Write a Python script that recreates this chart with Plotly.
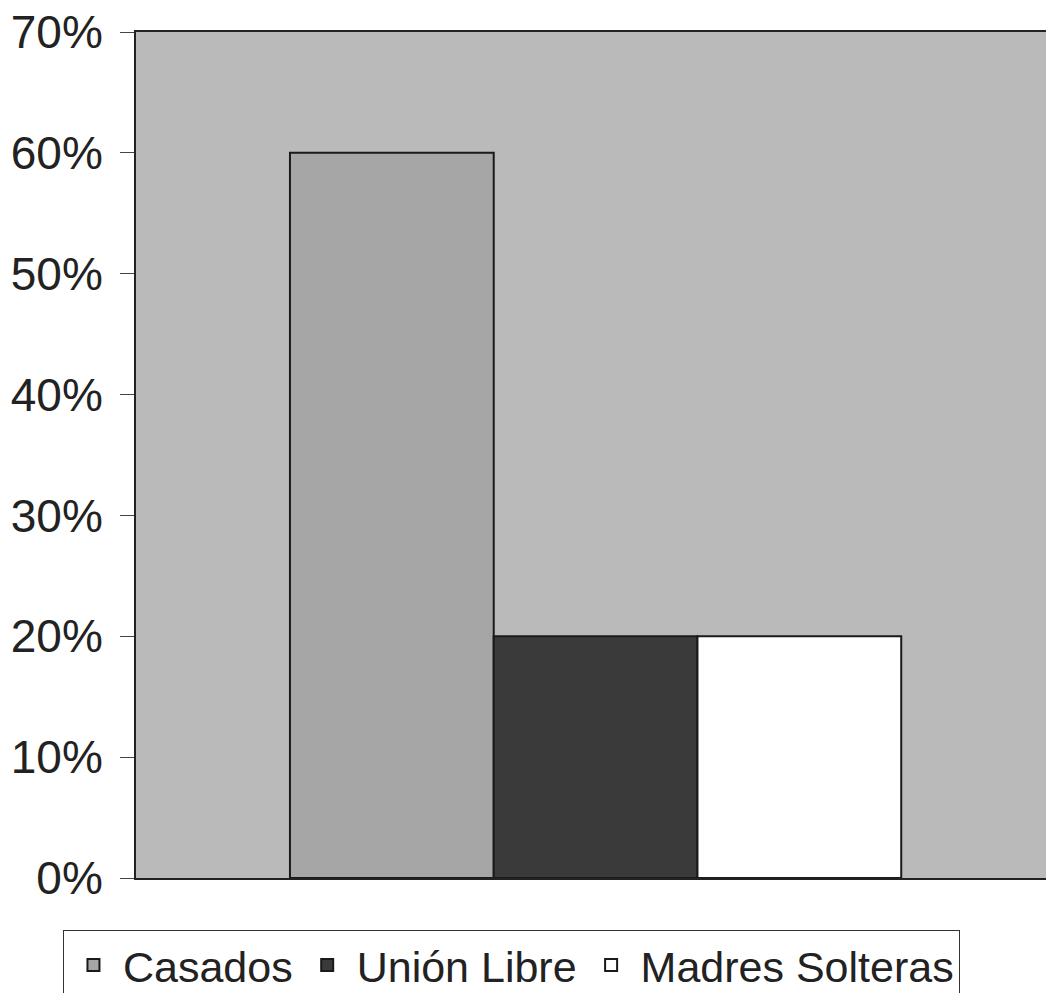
import plotly.graph_objects as go

series = ["Casados", "Unión Libre", "Madres Solteras"]
values = [0.60, 0.20, 0.20]
colors = ["#a6a6a6", "#3a3a3a", "#ffffff"]
category = [""]
y_ticks = [0, 0.1, 0.2, 0.3, 0.4, 0.5, 0.6, 0.7]
y_ticklabels = ["0%", "10%", "20%", "30%", "40%", "50%", "60%", "70%"]

fig = go.Figure()
for name, v, c in zip(series, values, colors):
    fig.add_trace(go.Bar(
        x=category, y=[v], name=name,
        marker=dict(color=c, line=dict(color="#1a1a1a", width=2)),
    ))

fig.update_layout(
    width=1046, height=993,
    margin=dict(l=136, r=0, t=32, b=115, autoexpand=False),
    paper_bgcolor="white",
    plot_bgcolor="#bababa",
    barmode="group",
    bargap=0.335,
    bargroupgap=0,
    font=dict(family="Liberation Sans, Arial, sans-serif", color="#222222"),
    showlegend=True,
    legend=dict(
        orientation="h",
        x=0.4126, xanchor="center",
        y=-0.061, yanchor="top",
        bordercolor="#333333", borderwidth=1,
        font=dict(size=43, color="#222222"),
        itemwidth=49,
        tracegroupgap=0,
    ),
    xaxis=dict(
        range=[-0.5, 0.49],
        showticklabels=False, ticks="",
        showline=True, linecolor="#222222", linewidth=2, mirror=True,
        showgrid=False, zeroline=False, fixedrange=True,
    ),
    yaxis=dict(
        range=[0, 0.7],
        tickvals=y_ticks, ticktext=y_ticklabels,
        ticks="outside", ticklen=14, tickwidth=1, tickcolor="#444444",
        ticklabelstandoff=8,
        showline=True, linecolor="#222222", linewidth=2,
        showgrid=False, zeroline=False, automargin=False,
        tickfont=dict(size=46, color="#222222"),
    ),
)

fig.write_html("out.html", config={"displayModeBar": False},
               post_script="document.body.style.margin='0';")
